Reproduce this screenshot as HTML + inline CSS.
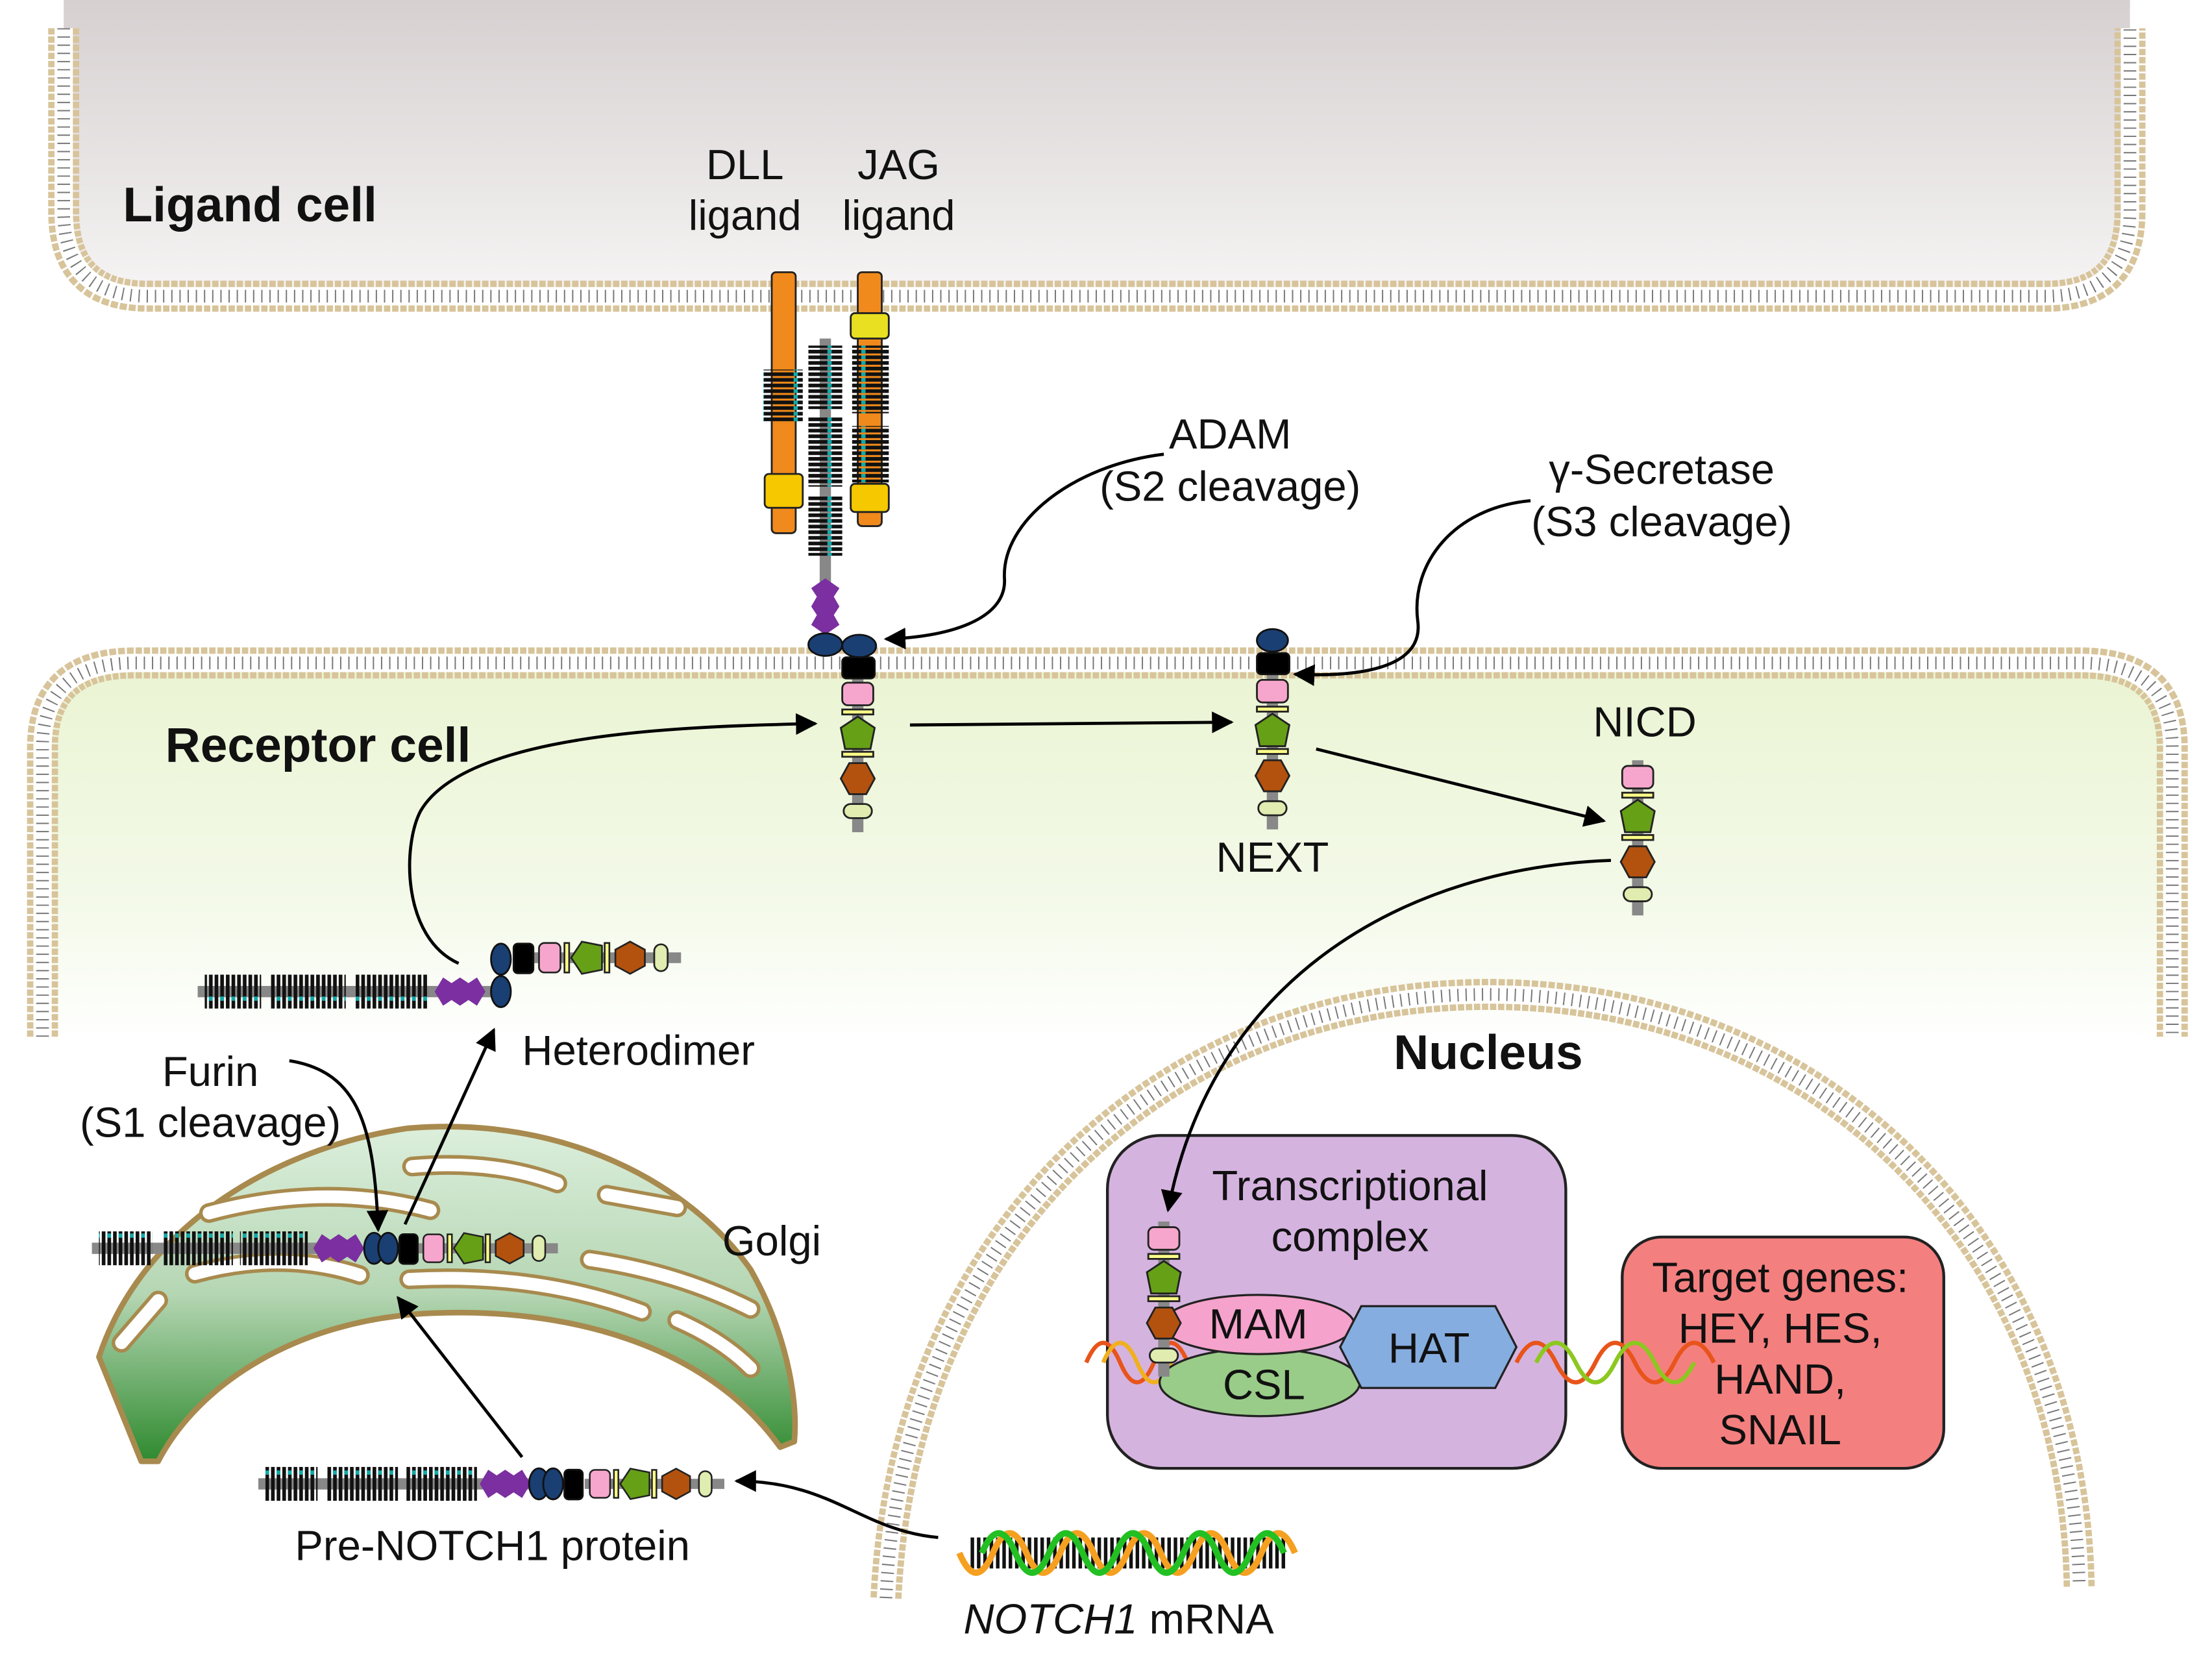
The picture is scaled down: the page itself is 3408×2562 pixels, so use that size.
<!DOCTYPE html>
<html><head><meta charset="utf-8"><style>
html,body{margin:0;padding:0;background:#fff;}
svg{display:block;}
text{font-family:"Liberation Sans",sans-serif;fill:#111;}
</style></head><body>
<svg width="3408" height="2562" viewBox="0 0 1568 1179" xmlns="http://www.w3.org/2000/svg">
<defs>
<linearGradient id="lg" x1="0" y1="0" x2="0" y2="1"><stop offset="0" stop-color="#d6d0d1"/><stop offset="1" stop-color="#f6f4f4"/></linearGradient>
<linearGradient id="rg" x1="0" y1="0" x2="0" y2="1"><stop offset="0" stop-color="#eaf4d2"/><stop offset="0.6" stop-color="#f3f9e8"/><stop offset="1" stop-color="#ffffff"/></linearGradient>
<linearGradient id="gg" x1="0" y1="0" x2="0" y2="1"><stop offset="0" stop-color="#dcefdc"/><stop offset="0.5" stop-color="#b5d6b3"/><stop offset="1" stop-color="#2f8a2f"/></linearGradient>
<pattern id="egfV" width="24" height="4" patternUnits="userSpaceOnUse"><rect x="0" y="0" width="24" height="2.6" fill="#111"/><rect x="10.5" y="0" width="3" height="2.6" fill="#1aa"/></pattern>
<pattern id="egfH" width="8" height="24" patternUnits="userSpaceOnUse"><rect x="0" y="0" width="2.6" height="24" fill="#111"/><rect x="4" y="0" width="2.6" height="24" fill="#111"/><rect x="4" y="10.5" width="2.6" height="3" fill="#1aa"/></pattern>
<marker id="ah" viewBox="0 0 10 10" refX="9" refY="5" markerWidth="7" markerHeight="7" orient="auto"><path d="M0,0 L10,5 L0,10 z" fill="#000"/></marker>
<g id="icd" stroke="#222" stroke-width="1.3">
 <rect x="-4" y="-4" width="8" height="110" fill="#888" stroke="none"/>
 <rect x="-11" y="0" width="22" height="16" rx="4" fill="#f6a6cc"/>
 <rect x="-11" y="19" width="22" height="3.5" fill="#ffff88"/>
 <polygon points="0,24 12,32 9,47 -9,47 -12,32" fill="#66a016"/>
 <rect x="-11" y="49" width="22" height="3.5" fill="#ffff88"/>
 <polygon points="-6,57 6,57 12,68 6,79 -6,79 -12,68" fill="#b3520e"/>
 <rect x="-10" y="86" width="20" height="10" rx="5" fill="#e0ecb0"/>
</g>
<g id="lnrV"><polygon points="0,0 10,7 6,13 10,20 6,26 10,33 0,40 -10,33 -6,26 -10,20 -6,13 -10,7" fill="#7b2fa0"/></g>
<g id="lnrH"><polygon points="0,0 6,-10 12,-6 18,-10 24,-6 30,-10 36,0 30,10 24,6 18,10 12,6 6,10" fill="#7b2fa0"/></g>
</defs>

<!-- Ligand cell -->
<path d="M45,0 L45,150 Q45,210 105,210 L1450,210 Q1510,210 1510,150 L1510,0 Z" fill="url(#lg)"/>
<g fill="none">
<path d="M45,20 L45,150 Q45,210 105,210 L1450,210 Q1510,210 1510,150 L1510,20" stroke="#d8c49a" stroke-width="22" stroke-dasharray="4.5 1.3"/>
<path d="M45,20 L45,150 Q45,210 105,210 L1450,210 Q1510,210 1510,150 L1510,20" stroke="#fff" stroke-width="13"/>
<path d="M45,20 L45,150 Q45,210 105,210 L1450,210 Q1510,210 1510,150 L1510,20" stroke="#777" stroke-width="9" stroke-dasharray="0.9 4.9"/>
</g>

<!-- Receptor cell -->
<path d="M30,740 L30,530 Q30,470 95,470 L1475,470 Q1540,470 1540,530 L1540,740 Z" fill="url(#rg)"/>
<g fill="none">
<path d="M30,735 L30,530 Q30,470 95,470 L1475,470 Q1540,470 1540,530 L1540,735" stroke="#d8c49a" stroke-width="22" stroke-dasharray="4.5 1.3"/>
<path d="M30,735 L30,530 Q30,470 95,470 L1475,470 Q1540,470 1540,530 L1540,735" stroke="#fff" stroke-width="13"/>
<path d="M30,735 L30,530 Q30,470 95,470 L1475,470 Q1540,470 1540,530 L1540,735" stroke="#777" stroke-width="9" stroke-dasharray="0.9 4.9"/>
</g>

<!-- Nucleus -->
<g fill="none">
<path d="M628,1133 C640,880 820,705 1055,705 C1290,705 1470,880 1474,1125" stroke="#d8c49a" stroke-width="22" stroke-dasharray="4.5 1.3"/>
<path d="M628,1133 C640,880 820,705 1055,705 C1290,705 1470,880 1474,1125" stroke="#fff" stroke-width="13"/>
<path d="M628,1133 C640,880 820,705 1055,705 C1290,705 1470,880 1474,1125" stroke="#777" stroke-width="9" stroke-dasharray="0.9 4.9"/>
</g>

<!-- Golgi -->
<path d="M100,1036 L70,962 C100,872 190,815 288,800 C400,790 490,840 532,900 C556,942 566,990 563,1022 L553,1026 C500,952 400,927 306,931 C210,935 140,982 112,1036 Z" fill="url(#gg)" stroke="#a88a4e" stroke-width="4" stroke-linejoin="round"/>
<g fill="none" stroke-linecap="round">
<g stroke="#a88a4e" stroke-width="14">
<path d="M148,860 Q230,838 305,858"/>
<path d="M292,827 Q350,822 395,839"/>
<path d="M430,847 L480,856"/>
<path d="M138,903 Q200,886 255,904"/>
<path d="M290,907 Q380,902 455,930"/>
<path d="M418,893 Q480,902 532,928"/>
<path d="M112,922 L86,952"/>
<path d="M480,936 Q512,950 532,970"/>
</g>
<g stroke="#fff" stroke-width="9">
<path d="M148,860 Q230,838 305,858"/>
<path d="M292,827 Q350,822 395,839"/>
<path d="M430,847 L480,856"/>
<path d="M138,903 Q200,886 255,904"/>
<path d="M290,907 Q380,902 455,930"/>
<path d="M418,893 Q480,902 532,928"/>
<path d="M112,922 L86,952"/>
<path d="M480,936 Q512,950 532,970"/>
</g>
</g>

<!-- Ligands -->
<g stroke="#222" stroke-width="1.3">
<rect x="547" y="193" width="17" height="185" rx="3" fill="#f08a1c"/>
<rect x="541" y="262" width="28" height="38" fill="url(#egfV)" stroke="none"/>
<rect x="542" y="336" width="27" height="24" rx="3" fill="#f5c800"/>
<rect x="608" y="193" width="17" height="180" rx="3" fill="#f08a1c"/>
<rect x="603" y="222" width="27" height="18" rx="3" fill="#e8e020"/>
<rect x="604" y="245" width="26" height="48" fill="url(#egfV)" stroke="none"/>
<rect x="604" y="302" width="26" height="40" fill="url(#egfV)" stroke="none"/>
<rect x="603" y="343" width="27" height="20" rx="3" fill="#f5c800"/>
</g>

<!-- Receptor (full) -->
<rect x="581" y="240" width="8" height="200" fill="#888"/>
<rect x="573" y="245" width="24" height="45" fill="url(#egfV)"/>
<rect x="573" y="295" width="24" height="50" fill="url(#egfV)"/>
<rect x="573" y="352" width="24" height="42" fill="url(#egfV)"/>
<use href="#lnrV" x="585" y="410"/>
<use href="#icd" transform="translate(608,484)"/>
<g stroke="#111" stroke-width="1.3">
<ellipse cx="585" cy="457" rx="12" ry="8" fill="#1a3f73"/>
<ellipse cx="609" cy="458" rx="12" ry="8" fill="#1a3f73"/>
<rect x="597" y="466" width="23" height="15" rx="3" fill="#000"/>
</g>

<!-- NEXT -->
<use href="#icd" transform="translate(902,482)"/>
<g stroke="#111" stroke-width="1.3">
<ellipse cx="902" cy="454" rx="11" ry="8" fill="#1a3f73"/>
<rect x="891" y="463" width="23" height="15" rx="3" fill="#000"/>
</g>
<!-- NICD -->
<use href="#icd" transform="translate(1161,543)"/>

<!-- Heterodimer -->
<rect x="140" y="699" width="210" height="8" fill="#888"/>
<rect x="145" y="691" width="40" height="24" fill="url(#egfH)"/>
<rect x="192" y="691" width="53" height="24" fill="url(#egfH)"/>
<rect x="252" y="691" width="52" height="24" fill="url(#egfH)"/>
<use href="#lnrH" x="308" y="703"/>
<use href="#icd" transform="translate(382,679) rotate(-90) scale(0.95)"/>
<g stroke="#111" stroke-width="1.3">
<ellipse cx="355" cy="703" rx="7" ry="11" fill="#1a3f73"/>
<ellipse cx="355" cy="680" rx="7" ry="11" fill="#1a3f73"/>
<rect x="364" y="669" width="14" height="21" rx="3" fill="#000"/>
</g>

<!-- Golgi notch -->
<rect x="65" y="881" width="160" height="8" fill="#888"/>
<rect x="70" y="873" width="38" height="24" fill="url(#egfH)"/>
<rect x="115" y="873" width="50" height="24" fill="url(#egfH)"/>
<rect x="170" y="873" width="48" height="24" fill="url(#egfH)"/>
<use href="#lnrH" x="222" y="885"/>
<use href="#icd" transform="translate(300,885) rotate(-90) scale(0.9)"/>
<g stroke="#111" stroke-width="1.3">
<ellipse cx="265" cy="885" rx="7" ry="11" fill="#1a3f73"/>
<ellipse cx="275" cy="885" rx="7" ry="11" fill="#1a3f73"/>
<rect x="283" y="875" width="13" height="21" rx="3" fill="#000"/>
</g>

<!-- Pre-NOTCH1 -->
<rect x="183" y="1048" width="200" height="8" fill="#888"/>
<rect x="188" y="1040" width="37" height="24" fill="url(#egfH)"/>
<rect x="232" y="1040" width="50" height="24" fill="url(#egfH)"/>
<rect x="288" y="1040" width="50" height="24" fill="url(#egfH)"/>
<use href="#lnrH" x="340" y="1052"/>
<use href="#icd" transform="translate(418,1052) rotate(-90) scale(0.9)"/>
<g stroke="#111" stroke-width="1.3">
<ellipse cx="382" cy="1052" rx="7" ry="11" fill="#1a3f73"/>
<ellipse cx="392" cy="1052" rx="7" ry="11" fill="#1a3f73"/>
<rect x="400" y="1042" width="13" height="21" rx="3" fill="#000"/>
</g>

<!-- Transcriptional complex -->
<rect x="785" y="805" width="325" height="236" rx="38" fill="#d5b3df" stroke="#222" stroke-width="2"/>
<rect x="1150" y="877" width="228" height="164" rx="28" fill="#f47f7f" stroke="#222" stroke-width="2"/>
<g fill="none" stroke-width="3">
<path d="M770,966 q12,-28 24,0 t24,0 t24,0" stroke="#e8541a"/>
<path d="M782,966 q12,-28 24,0 t24,0" stroke="#f0b020"/>
<path d="M1075,966 q14,-28 28,0 t28,0 t28,0 t28,0 t28,0" stroke="#e8541a"/>
<path d="M1089,966 q14,-28 28,0 t28,0 t28,0 t28,0" stroke="#8cc820"/>
</g>
<ellipse cx="893" cy="980" rx="71" ry="24" fill="#99cc88" stroke="#222" stroke-width="1.5"/>
<ellipse cx="892" cy="939" rx="68" ry="21" fill="#f5a2cc" stroke="#222" stroke-width="1.5"/>
<polygon points="965,926 1060,926 1075,955 1060,984 965,984 950,955" fill="#86ade0" stroke="#222" stroke-width="1.5"/>
<use href="#icd" transform="translate(825,870)"/>

<!-- mRNA -->
<line x1="688" y1="1101" x2="912" y2="1101" stroke="#111" stroke-width="22" stroke-dasharray="2.5 2"/>
<g fill="none" stroke-width="4.5">
<path d="M680,1101 q11.9,28 23.8,0 t23.8,0 t23.8,0 t23.8,0 t23.8,0 t23.8,0 t23.8,0 t23.8,0 t23.8,0 t23.8,0" stroke="#f5a020"/>
<path d="M696,1101 q11.9,-28 23.8,0 t23.8,0 t23.8,0 t23.8,0 t23.8,0 t23.8,0 t23.8,0 t23.8,0 t23.8,0" stroke="#22c022"/>
</g>

<!-- Arrows -->
<g fill="none" stroke="#000" stroke-width="2.2" marker-end="url(#ah)">
<path d="M825,322 C760,330 710,370 712,410 C714,440 670,452 628,453"/>
<path d="M1085,355 C1030,360 1000,400 1005,440 C1010,475 960,480 918,478"/>
<path d="M325,683 C285,665 285,600 298,575 C330,520 480,515 578,513"/>
<path d="M645,514 L873,512"/>
<path d="M933,531 L1137,582"/>
<path d="M1142,610 C1000,615 860,690 828,858"/>
<path d="M287,868 L350,730"/>
<path d="M205,752 C255,760 265,800 268,872"/>
<path d="M370,1033 L282,920"/>
<path d="M665,1090 C610,1085 590,1050 522,1050"/>
</g>

<!-- Text -->
<g font-size="30">
<text x="87" y="157" font-size="34.5" font-weight="bold">Ligand cell</text>
<text x="528" y="127" text-anchor="middle">DLL</text>
<text x="528" y="163" text-anchor="middle">ligand</text>
<text x="637" y="127" text-anchor="middle">JAG</text>
<text x="637" y="163" text-anchor="middle">ligand</text>
<text x="872" y="318" text-anchor="middle">ADAM</text>
<text x="872" y="355" text-anchor="middle">(S2 cleavage)</text>
<text x="1178" y="343" text-anchor="middle">γ-Secretase</text>
<text x="1178" y="380" text-anchor="middle">(S3 cleavage)</text>
<text x="117" y="540" font-size="34.5" font-weight="bold">Receptor cell</text>
<text x="1166" y="522" text-anchor="middle">NICD</text>
<text x="902" y="618" text-anchor="middle">NEXT</text>
<text x="370" y="755">Heterodimer</text>
<text x="149" y="770" text-anchor="middle">Furin</text>
<text x="149" y="806" text-anchor="middle">(S1 cleavage)</text>
<text x="512" y="890">Golgi</text>
<text x="1055" y="758" font-size="34.5" font-weight="bold" text-anchor="middle">Nucleus</text>
<text x="957" y="851" text-anchor="middle">Transcriptional</text>
<text x="957" y="887" text-anchor="middle">complex</text>
<text x="892" y="949" text-anchor="middle">MAM</text>
<text x="896" y="992" text-anchor="middle">CSL</text>
<text x="1013" y="966" text-anchor="middle">HAT</text>
<text x="1262" y="916" text-anchor="middle">Target genes:</text>
<text x="1262" y="952" text-anchor="middle">HEY, HES,</text>
<text x="1262" y="988" text-anchor="middle">HAND,</text>
<text x="1262" y="1024" text-anchor="middle">SNAIL</text>
<text x="349" y="1106" text-anchor="middle">Pre-NOTCH1 protein</text>
<text x="793" y="1158" text-anchor="middle"><tspan font-style="italic">NOTCH1</tspan> mRNA</text>
</g>
</svg>
</body></html>
